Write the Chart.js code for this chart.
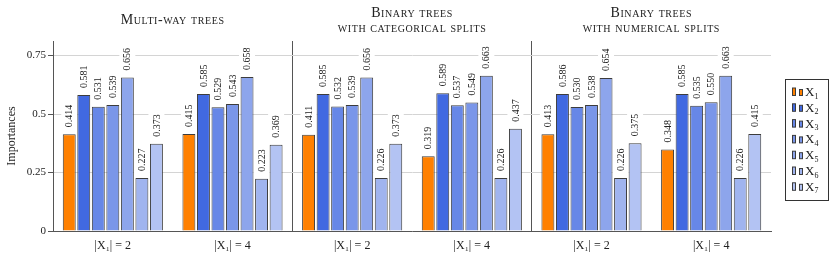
<!DOCTYPE html>
<html>
<head>
<meta charset="utf-8">
<script src="https://cdn.jsdelivr.net/npm/chart.js@4.4.1/dist/chart.umd.min.js"></script>
<style>
  html, body { margin: 0; padding: 0; background: #fff; }
  #wrap { width: 830px; height: 255px; }
</style>
</head>
<body>
<div id="wrap"><canvas id="chart" width="830" height="255"></canvas></div>
<script>
// Groups along the x axis (two per panel)
const groupLabels = ['|X₁| = 2', '|X₁| = 4', '|X₁| = 2', '|X₁| = 4', '|X₁| = 2', '|X₁| = 4'];
const panelTitles = [
  ['Multi-way trees'],
  ['Binary trees', 'with categorical splits'],
  ['Binary trees', 'with numerical splits']
];
const varNames = ['X1', 'X2', 'X3', 'X4', 'X5', 'X6', 'X7'];

// Importances, one value per group
const x1 = [0.414, 0.415, 0.411, 0.319, 0.413, 0.348];
const x2 = [0.581, 0.585, 0.585, 0.589, 0.586, 0.585];
const x3 = [0.531, 0.529, 0.532, 0.537, 0.530, 0.535];
const x4 = [0.539, 0.543, 0.539, 0.549, 0.538, 0.550];
const x5 = [0.656, 0.658, 0.656, 0.663, 0.654, 0.663];
const x6 = [0.227, 0.223, 0.226, 0.226, 0.226, 0.226];
const x7 = [0.373, 0.369, 0.373, 0.437, 0.375, 0.415];
const yTicks = [0, 0.25, 0.5, 0.75];

const colors = ['#ff8000', '#4169e1', '#6787e7', '#7a96e9', '#8da5ec', '#a0b4ef', '#b3c3f3'];
const edge = '#3c3c3c';
const dark = '#555555';
const serif = "'Liberation Serif', 'DejaVu Serif', serif";

const datasets = [x1, x2, x3, x4, x5, x6, x7].map((vals, i) => ({
  label: varNames[i],
  data: vals,
  backgroundColor: colors[i],
  borderColor: edge,
  borderWidth: 1,
  categoryPercentage: 0.85,
  barPercentage: 0.89
}));

// white boxes under value labels (hide grid), text drawn over the bars
const valueLabels = {
  id: 'valueLabels',
  beforeDatasetsDraw(chart) {
    const ctx = chart.ctx;
    ctx.save();
    ctx.font = '10px ' + serif;
    ctx.fillStyle = '#fff';
    chart.data.datasets.forEach((ds, di) => {
      chart.getDatasetMeta(di).data.forEach((bar, i) => {
        const w = ctx.measureText(ds.data[i].toFixed(3)).width;
        ctx.fillRect(bar.x - 8, bar.y - 7 - w - 3, 16, w + 7);
      });
    });
    ctx.restore();
  },
  afterDatasetsDraw(chart) {
    const ctx = chart.ctx;
    ctx.save();
    ctx.font = '10px ' + serif;
    ctx.fillStyle = '#222';
    ctx.textBaseline = 'middle';
    ctx.textAlign = 'left';
    chart.data.datasets.forEach((ds, di) => {
      chart.getDatasetMeta(di).data.forEach((bar, i) => {
        ctx.save();
        ctx.translate(bar.x, bar.y - 7);
        ctx.rotate(-Math.PI / 2);
        ctx.fillText(ds.data[i].toFixed(3), 0, 0.5);
        ctx.restore();
      });
    });
    ctx.restore();
  }
};

// panel titles in small caps and the legend box on the right
const decorations = {
  id: 'decorations',
  afterDraw(chart) {
    const ctx = chart.ctx;
    const area = chart.chartArea;
    const pw = (area.right - area.left) / 3;
    ctx.save();
    ctx.fillStyle = '#222';
    ctx.textAlign = 'center';
    ctx.textBaseline = 'middle';
    ctx.font = '14px ' + serif;
    ctx.fontVariantCaps = 'small-caps';
    ctx.letterSpacing = '0.6px';
    panelTitles.forEach((lines, p) => {
      const cx = area.left + pw * (p + 0.5);
      if (lines.length === 1) {
        ctx.fillText(lines[0], cx, 20);
      } else {
        ctx.fillText(lines[0], cx, 13);
        ctx.fillText(lines[1], cx, 28);
      }
    });
    ctx.fontVariantCaps = 'normal';
    ctx.letterSpacing = '0px';

    // legend
    const lx = 785, ly = 79;
    ctx.strokeStyle = '#333';
    ctx.lineWidth = 1;
    ctx.strokeRect(lx + 0.5, ly + 0.5, 43, 121);
    ctx.textAlign = 'left';
    ctx.textBaseline = 'alphabetic';
    varNames.forEach((name, i) => {
      const y = 96 + i * 15.8;
      ctx.fillStyle = colors[i];
      ctx.strokeStyle = edge;
      ctx.fillRect(792.5, y - 8, 3, 7.5);
      ctx.strokeRect(792.5, y - 8, 3, 7.5);
      ctx.fillRect(799.5, y - 6.5, 3, 6);
      ctx.strokeRect(799.5, y - 6.5, 3, 6);
      ctx.fillStyle = '#222';
      ctx.font = '13px ' + serif;
      ctx.fillText(name[0], 805, y);
      const xw = ctx.measureText(name[0]).width;
      ctx.font = '8px ' + serif;
      ctx.fillText(name.slice(1), 805 + xw, y + 2.5);
    });
    ctx.restore();
  }
};

new Chart(document.getElementById('chart'), {
  type: 'bar',
  data: { labels: groupLabels, datasets: datasets },
  options: {
    responsive: false,
    animation: false,
    devicePixelRatio: 1,
    layout: { padding: { left: 0, top: 41, right: 59, bottom: 0 } },
    plugins: {
      legend: { display: false },
      tooltip: { enabled: false }
    },
    scales: {
      x: {
        grid: {
          offset: true,
          color: ctx => (ctx.index === 2 || ctx.index === 4) ? dark : 'transparent',
          tickColor: ctx => ctx.index === 6 ? dark : 'transparent',
          tickLength: 3
        },
        border: { display: true, color: dark },
        ticks: {
          color: '#222',
          font: { family: serif, size: 12 },
          padding: 5,
          maxRotation: 0
        },
        afterFit(scale) { scale.height = 24; }
      },
      y: {
        min: 0,
        max: 0.812,
        afterBuildTicks(scale) { scale.ticks = yTicks.map(v => ({ value: v })); },
        grid: { color: '#d4d4d4', tickColor: dark, tickLength: 5 },
        border: { display: true, color: dark },
        ticks: {
          color: '#222',
          font: { family: serif, size: 11 },
          padding: 2,
          callback: v => String(v)
        },
        title: {
          display: true,
          text: 'Importances',
          color: '#222',
          font: { family: serif, size: 12 },
          padding: { top: 5, bottom: 0 }
        },
        afterFit(scale) { scale.width = 53; }
      }
    }
  },
  plugins: [valueLabels, decorations]
});
</script>
</body>
</html>
